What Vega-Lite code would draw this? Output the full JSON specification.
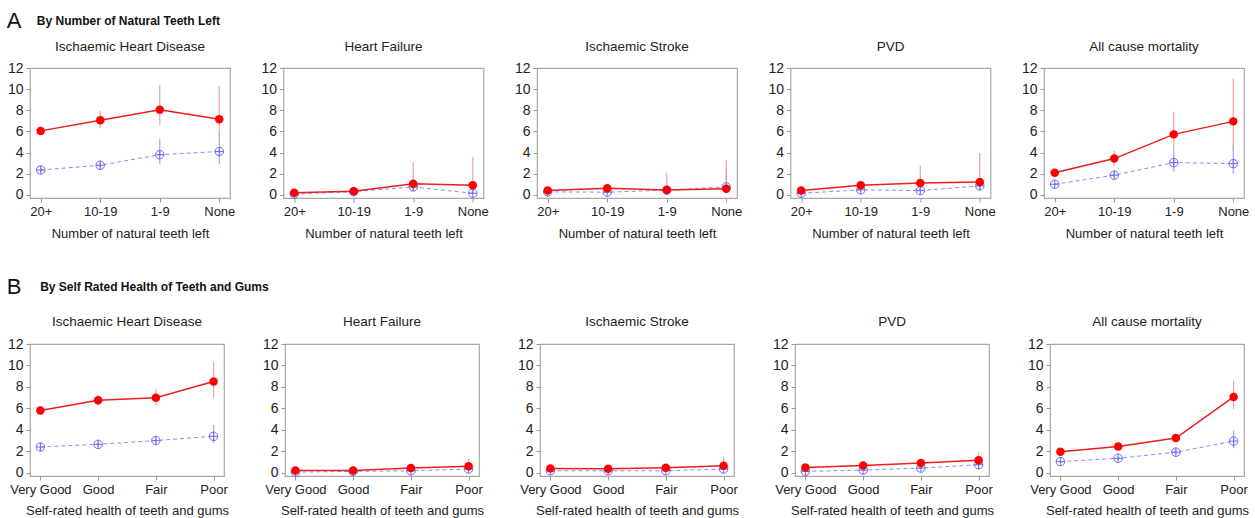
{
  "$schema": "https://vega.github.io/schema/vega-lite/v6.json",
  "background": "white",
  "padding": {"left": 6, "top": 9, "right": 5, "bottom": 0},
  "config": {
    "font": "Liberation Sans",
    "view": {"stroke": "#a8a8a8", "strokeWidth": 1.2},
    "axis": {"labelFont": "Liberation Sans", "labelFontSize": 13, "labelColor": "#222", "titleFont": "Liberation Sans", "titleFontSize": 13, "titleFontWeight": "normal", "titleColor": "#222", "domain": false, "grid": false, "tickColor": "#999", "tickSize": 4, "labelPadding": 3},
    "axisQuantitative": {"labelOverlap": false, "labelFontSize": 14, "values": [0, 2, 4, 6, 8, 10, 12], "title": null},
    "header": {"labelFont": "Liberation Sans", "labelFontSize": 13.5, "labelColor": "#222"},
    "title": {"font": "Liberation Sans", "color": "#111", "subtitleColor": "#111", "subtitleFont": "Liberation Sans"}
  },
  "datasets": {
    "d": [
      {"g":"A","p":"Ischaemic Heart Disease","c":"20+","s":"r","est":6.05,"lo":5.7,"hi":6.4},
      {"g":"A","p":"Ischaemic Heart Disease","c":"10-19","s":"r","est":7.05,"lo":6.3,"hi":7.95},
      {"g":"A","p":"Ischaemic Heart Disease","c":"1-9","s":"r","est":8.05,"lo":6.6,"hi":10.4},
      {"g":"A","p":"Ischaemic Heart Disease","c":"None","s":"r","est":7.15,"lo":5.6,"hi":10.3},
      {"g":"A","p":"Ischaemic Heart Disease","c":"20+","s":"b","est":2.35,"lo":2.15,"hi":2.6},
      {"g":"A","p":"Ischaemic Heart Disease","c":"10-19","s":"b","est":2.8,"lo":2.45,"hi":3.2},
      {"g":"A","p":"Ischaemic Heart Disease","c":"1-9","s":"b","est":3.8,"lo":2.95,"hi":5.25},
      {"g":"A","p":"Ischaemic Heart Disease","c":"None","s":"b","est":4.1,"lo":2.95,"hi":5.9},
      {"g":"A","p":"Heart Failure","c":"20+","s":"r","est":0.2,"lo":0.1,"hi":0.35},
      {"g":"A","p":"Heart Failure","c":"10-19","s":"r","est":0.35,"lo":0.2,"hi":0.55},
      {"g":"A","p":"Heart Failure","c":"1-9","s":"r","est":1.05,"lo":0.4,"hi":3.05},
      {"g":"A","p":"Heart Failure","c":"None","s":"r","est":0.9,"lo":0.3,"hi":3.6},
      {"g":"A","p":"Heart Failure","c":"20+","s":"b","est":0.08,"lo":0.03,"hi":0.15},
      {"g":"A","p":"Heart Failure","c":"10-19","s":"b","est":0.3,"lo":0.2,"hi":0.45},
      {"g":"A","p":"Heart Failure","c":"1-9","s":"b","est":0.75,"lo":0.4,"hi":1.3},
      {"g":"A","p":"Heart Failure","c":"None","s":"b","est":0.15,"lo":0.05,"hi":0.5},
      {"g":"A","p":"Ischaemic Stroke","c":"20+","s":"r","est":0.42,"lo":0.3,"hi":0.6},
      {"g":"A","p":"Ischaemic Stroke","c":"10-19","s":"r","est":0.62,"lo":0.45,"hi":0.85},
      {"g":"A","p":"Ischaemic Stroke","c":"1-9","s":"r","est":0.45,"lo":0.15,"hi":2.1},
      {"g":"A","p":"Ischaemic Stroke","c":"None","s":"r","est":0.58,"lo":0.15,"hi":3.3},
      {"g":"A","p":"Ischaemic Stroke","c":"20+","s":"b","est":0.28,"lo":0.2,"hi":0.4},
      {"g":"A","p":"Ischaemic Stroke","c":"10-19","s":"b","est":0.25,"lo":0.15,"hi":0.4},
      {"g":"A","p":"Ischaemic Stroke","c":"1-9","s":"b","est":0.45,"lo":0.2,"hi":0.9},
      {"g":"A","p":"Ischaemic Stroke","c":"None","s":"b","est":0.75,"lo":0.3,"hi":2.6},
      {"g":"A","p":"PVD","c":"20+","s":"r","est":0.42,"lo":0.3,"hi":0.55},
      {"g":"A","p":"PVD","c":"10-19","s":"r","est":0.9,"lo":0.65,"hi":1.2},
      {"g":"A","p":"PVD","c":"1-9","s":"r","est":1.12,"lo":0.45,"hi":2.75},
      {"g":"A","p":"PVD","c":"None","s":"r","est":1.22,"lo":0.4,"hi":3.95},
      {"g":"A","p":"PVD","c":"20+","s":"b","est":0.15,"lo":0.08,"hi":0.25},
      {"g":"A","p":"PVD","c":"10-19","s":"b","est":0.47,"lo":0.35,"hi":0.6},
      {"g":"A","p":"PVD","c":"1-9","s":"b","est":0.4,"lo":0.2,"hi":0.8},
      {"g":"A","p":"PVD","c":"None","s":"b","est":0.85,"lo":0.45,"hi":1.6},
      {"g":"A","p":"All cause mortality","c":"20+","s":"r","est":2.08,"lo":1.9,"hi":2.3},
      {"g":"A","p":"All cause mortality","c":"10-19","s":"r","est":3.43,"lo":2.75,"hi":4.15},
      {"g":"A","p":"All cause mortality","c":"1-9","s":"r","est":5.72,"lo":4.25,"hi":7.85},
      {"g":"A","p":"All cause mortality","c":"None","s":"r","est":6.95,"lo":4.2,"hi":11.0},
      {"g":"A","p":"All cause mortality","c":"20+","s":"b","est":1.0,"lo":0.9,"hi":1.1},
      {"g":"A","p":"All cause mortality","c":"10-19","s":"b","est":1.86,"lo":1.6,"hi":2.2},
      {"g":"A","p":"All cause mortality","c":"1-9","s":"b","est":3.05,"lo":2.2,"hi":4.25},
      {"g":"A","p":"All cause mortality","c":"None","s":"b","est":2.95,"lo":2.0,"hi":4.7},
      {"g":"B","p":"Ischaemic Heart Disease","c":"Very Good","s":"r","est":5.8,"lo":5.4,"hi":6.2},
      {"g":"B","p":"Ischaemic Heart Disease","c":"Good","s":"r","est":6.75,"lo":6.3,"hi":7.3},
      {"g":"B","p":"Ischaemic Heart Disease","c":"Fair","s":"r","est":7.0,"lo":6.25,"hi":7.85},
      {"g":"B","p":"Ischaemic Heart Disease","c":"Poor","s":"r","est":8.5,"lo":7.05,"hi":10.35},
      {"g":"B","p":"Ischaemic Heart Disease","c":"Very Good","s":"b","est":2.4,"lo":2.15,"hi":2.65},
      {"g":"B","p":"Ischaemic Heart Disease","c":"Good","s":"b","est":2.65,"lo":2.4,"hi":2.9},
      {"g":"B","p":"Ischaemic Heart Disease","c":"Fair","s":"b","est":3.0,"lo":2.7,"hi":3.4},
      {"g":"B","p":"Ischaemic Heart Disease","c":"Poor","s":"b","est":3.4,"lo":2.75,"hi":4.45},
      {"g":"B","p":"Heart Failure","c":"Very Good","s":"r","est":0.22,"lo":0.15,"hi":0.3},
      {"g":"B","p":"Heart Failure","c":"Good","s":"r","est":0.22,"lo":0.15,"hi":0.32},
      {"g":"B","p":"Heart Failure","c":"Fair","s":"r","est":0.44,"lo":0.3,"hi":0.6},
      {"g":"B","p":"Heart Failure","c":"Poor","s":"r","est":0.6,"lo":0.35,"hi":1.3},
      {"g":"B","p":"Heart Failure","c":"Very Good","s":"b","est":0.06,"lo":0.03,"hi":0.1},
      {"g":"B","p":"Heart Failure","c":"Good","s":"b","est":0.13,"lo":0.08,"hi":0.2},
      {"g":"B","p":"Heart Failure","c":"Fair","s":"b","est":0.19,"lo":0.1,"hi":0.3},
      {"g":"B","p":"Heart Failure","c":"Poor","s":"b","est":0.35,"lo":0.2,"hi":0.6},
      {"g":"B","p":"Ischaemic Stroke","c":"Very Good","s":"r","est":0.41,"lo":0.3,"hi":0.55},
      {"g":"B","p":"Ischaemic Stroke","c":"Good","s":"r","est":0.38,"lo":0.28,"hi":0.5},
      {"g":"B","p":"Ischaemic Stroke","c":"Fair","s":"r","est":0.47,"lo":0.35,"hi":0.62},
      {"g":"B","p":"Ischaemic Stroke","c":"Poor","s":"r","est":0.66,"lo":0.4,"hi":1.5},
      {"g":"B","p":"Ischaemic Stroke","c":"Very Good","s":"b","est":0.19,"lo":0.12,"hi":0.28},
      {"g":"B","p":"Ischaemic Stroke","c":"Good","s":"b","est":0.19,"lo":0.12,"hi":0.28},
      {"g":"B","p":"Ischaemic Stroke","c":"Fair","s":"b","est":0.19,"lo":0.12,"hi":0.3},
      {"g":"B","p":"Ischaemic Stroke","c":"Poor","s":"b","est":0.35,"lo":0.2,"hi":0.6},
      {"g":"B","p":"PVD","c":"Very Good","s":"r","est":0.5,"lo":0.4,"hi":0.62},
      {"g":"B","p":"PVD","c":"Good","s":"r","est":0.69,"lo":0.55,"hi":0.85},
      {"g":"B","p":"PVD","c":"Fair","s":"r","est":0.91,"lo":0.72,"hi":1.12},
      {"g":"B","p":"PVD","c":"Poor","s":"r","est":1.16,"lo":0.7,"hi":1.9},
      {"g":"B","p":"PVD","c":"Very Good","s":"b","est":0.13,"lo":0.08,"hi":0.2},
      {"g":"B","p":"PVD","c":"Good","s":"b","est":0.25,"lo":0.18,"hi":0.35},
      {"g":"B","p":"PVD","c":"Fair","s":"b","est":0.44,"lo":0.32,"hi":0.58},
      {"g":"B","p":"PVD","c":"Poor","s":"b","est":0.75,"lo":0.45,"hi":1.1},
      {"g":"B","p":"All cause mortality","c":"Very Good","s":"r","est":1.95,"lo":1.8,"hi":2.1},
      {"g":"B","p":"All cause mortality","c":"Good","s":"r","est":2.45,"lo":2.25,"hi":2.65},
      {"g":"B","p":"All cause mortality","c":"Fair","s":"r","est":3.24,"lo":3.0,"hi":3.5},
      {"g":"B","p":"All cause mortality","c":"Poor","s":"r","est":7.07,"lo":5.9,"hi":8.58},
      {"g":"B","p":"All cause mortality","c":"Very Good","s":"b","est":1.04,"lo":0.95,"hi":1.15},
      {"g":"B","p":"All cause mortality","c":"Good","s":"b","est":1.35,"lo":1.2,"hi":1.5},
      {"g":"B","p":"All cause mortality","c":"Fair","s":"b","est":1.92,"lo":1.7,"hi":2.2},
      {"g":"B","p":"All cause mortality","c":"Poor","s":"b","est":2.95,"lo":2.29,"hi":3.93}
    ]
  },
  "spacing": 34,
  "vconcat": [
    {
      "title": {"text": "A", "subtitle": "\u200b\u00a0\u00a0\u00a0\u00a0\u00a0\u00a0\u00a0\u00a0\u00a0By Number of Natural Teeth Left", "anchor": "start", "frame": "bounds", "fontSize": 22, "fontWeight": "normal", "subtitleFontSize": 12, "subtitleFontWeight": "bold", "subtitlePadding": -17, "offset": 7},
      "data": {"name": "d"},
      "transform": [{"filter": "datum.g == 'A'"}],
      "facet": {"column": {"field": "p", "type": "nominal", "sort": ["Ischaemic Heart Disease", "Heart Failure", "Ischaemic Stroke", "PVD", "All cause mortality"], "header": {"title": null, "labelPadding": 15}}},
      "resolve": {"axis": {"x": "independent", "y": "independent"}},
      "spacing": 53.5,
      "bounds": "flush",
      "spec": {
        "width": 200,
        "height": 130,
        "encoding": {"x": {"field": "c", "type": "ordinal", "sort": ["20+", "10-19", "1-9", "None"], "scale": {"type": "point", "padding": 0.18}, "axis": {"title": "Number of natural teeth left", "labelAngle": 0, "titlePadding": 9}}},
        "layer": [
          {"transform": [{"filter": "datum.s == 'b'"}], "mark": {"type": "rule", "color": "#a3a3f5", "strokeWidth": 1.2}, "encoding": {"y": {"field": "lo", "type": "quantitative", "scale": {"domain": [-0.3, 12], "nice": false, "zero": false}, "axis": {"title": null, "values": [0, 2, 4, 6, 8, 10, 12], "labelOverlap": false}}, "y2": {"field": "hi"}}},
          {"transform": [{"filter": "datum.s == 'r'"}], "mark": {"type": "rule", "color": "#f5a0a0", "strokeWidth": 1.2}, "encoding": {"y": {"field": "lo", "type": "quantitative", "axis": {"title": null, "values": [0, 2, 4, 6, 8, 10, 12], "labelOverlap": false}}, "y2": {"field": "hi"}}},
          {"transform": [{"filter": "datum.s == 'b'"}], "mark": {"type": "line", "color": "#8a8aff", "strokeWidth": 1, "strokeDash": [4, 3]}, "encoding": {"y": {"field": "est", "type": "quantitative", "axis": {"title": null, "values": [0, 2, 4, 6, 8, 10, 12], "labelOverlap": false}}}},
          {"transform": [{"filter": "datum.s == 'b'"}], "mark": {"type": "point", "shape": "circle", "filled": false, "color": "#6a6af5", "size": 72, "strokeWidth": 1, "opacity": 1}, "encoding": {"y": {"field": "est", "type": "quantitative", "axis": {"title": null, "values": [0, 2, 4, 6, 8, 10, 12], "labelOverlap": false}}}},
          {"transform": [{"filter": "datum.s == 'b'"}], "mark": {"type": "point", "shape": "M-1,0L1,0M0,-1L0,1", "filled": false, "color": "#6a6af5", "size": 72, "strokeWidth": 1, "opacity": 1}, "encoding": {"y": {"field": "est", "type": "quantitative", "axis": {"title": null, "values": [0, 2, 4, 6, 8, 10, 12], "labelOverlap": false}}}},
          {"transform": [{"filter": "datum.s == 'r'"}], "mark": {"type": "line", "color": "#ee1c1c", "strokeWidth": 1.5}, "encoding": {"y": {"field": "est", "type": "quantitative", "axis": {"title": null, "values": [0, 2, 4, 6, 8, 10, 12], "labelOverlap": false}}}},
          {"transform": [{"filter": "datum.s == 'r'"}], "mark": {"type": "circle", "color": "#ff0000", "size": 72, "opacity": 1}, "encoding": {"y": {"field": "est", "type": "quantitative", "axis": {"title": null, "values": [0, 2, 4, 6, 8, 10, 12], "labelOverlap": false}}}}
        ]
      }
    },
    {
      "title": {"text": "B", "subtitle": "\u200b\u00a0\u00a0\u00a0\u00a0\u00a0\u00a0\u00a0\u00a0\u00a0\u00a0By Self Rated Health of Teeth and Gums", "anchor": "start", "frame": "bounds", "fontSize": 22, "fontWeight": "normal", "subtitleFontSize": 12, "subtitleFontWeight": "bold", "subtitlePadding": -17, "offset": 16},
      "data": {"name": "d"},
      "transform": [{"filter": "datum.g == 'B'"}],
      "facet": {"column": {"field": "p", "type": "nominal", "sort": ["Ischaemic Heart Disease", "Heart Failure", "Ischaemic Stroke", "PVD", "All cause mortality"], "header": {"title": null, "labelPadding": 16}}},
      "resolve": {"axis": {"x": "independent", "y": "independent"}},
      "spacing": 61,
      "bounds": "flush",
      "spec": {
        "width": 194,
        "height": 132,
        "encoding": {"x": {"field": "c", "type": "ordinal", "sort": ["Very Good", "Good", "Fair", "Poor"], "scale": {"type": "point", "padding": 0.18}, "axis": {"title": "Self-rated health of teeth and gums", "labelAngle": 0, "titlePadding": 8}}},
        "layer": [
          {"transform": [{"filter": "datum.s == 'b'"}], "mark": {"type": "rule", "color": "#a3a3f5", "strokeWidth": 1.2}, "encoding": {"y": {"field": "lo", "type": "quantitative", "scale": {"domain": [-0.3, 12], "nice": false, "zero": false}, "axis": {"title": null, "values": [0, 2, 4, 6, 8, 10, 12], "labelOverlap": false}}, "y2": {"field": "hi"}}},
          {"transform": [{"filter": "datum.s == 'r'"}], "mark": {"type": "rule", "color": "#f5a0a0", "strokeWidth": 1.2}, "encoding": {"y": {"field": "lo", "type": "quantitative", "axis": {"title": null, "values": [0, 2, 4, 6, 8, 10, 12], "labelOverlap": false}}, "y2": {"field": "hi"}}},
          {"transform": [{"filter": "datum.s == 'b'"}], "mark": {"type": "line", "color": "#8a8aff", "strokeWidth": 1, "strokeDash": [4, 3]}, "encoding": {"y": {"field": "est", "type": "quantitative", "axis": {"title": null, "values": [0, 2, 4, 6, 8, 10, 12], "labelOverlap": false}}}},
          {"transform": [{"filter": "datum.s == 'b'"}], "mark": {"type": "point", "shape": "circle", "filled": false, "color": "#6a6af5", "size": 72, "strokeWidth": 1, "opacity": 1}, "encoding": {"y": {"field": "est", "type": "quantitative", "axis": {"title": null, "values": [0, 2, 4, 6, 8, 10, 12], "labelOverlap": false}}}},
          {"transform": [{"filter": "datum.s == 'b'"}], "mark": {"type": "point", "shape": "M-1,0L1,0M0,-1L0,1", "filled": false, "color": "#6a6af5", "size": 72, "strokeWidth": 1, "opacity": 1}, "encoding": {"y": {"field": "est", "type": "quantitative", "axis": {"title": null, "values": [0, 2, 4, 6, 8, 10, 12], "labelOverlap": false}}}},
          {"transform": [{"filter": "datum.s == 'r'"}], "mark": {"type": "line", "color": "#ee1c1c", "strokeWidth": 1.5}, "encoding": {"y": {"field": "est", "type": "quantitative", "axis": {"title": null, "values": [0, 2, 4, 6, 8, 10, 12], "labelOverlap": false}}}},
          {"transform": [{"filter": "datum.s == 'r'"}], "mark": {"type": "circle", "color": "#ff0000", "size": 72, "opacity": 1}, "encoding": {"y": {"field": "est", "type": "quantitative", "axis": {"title": null, "values": [0, 2, 4, 6, 8, 10, 12], "labelOverlap": false}}}}
        ]
      }
    }
  ]
}
